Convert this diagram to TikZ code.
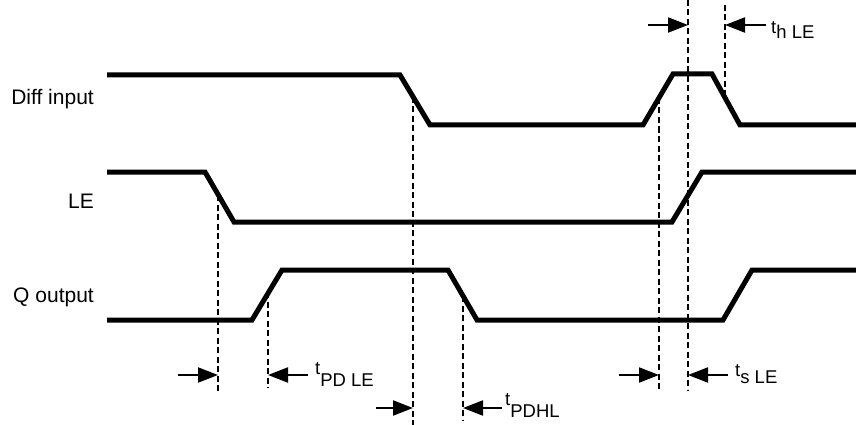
\documentclass[tikz,border=0pt]{standalone}
\usepackage{fontspec}
\setmainfont{Liberation Sans}
\usetikzlibrary{arrows.meta}
\begin{document}
\begin{tikzpicture}[x=1pt,y=-1pt,
  sig/.style={line width=5pt, line join=miter},
  guide/.style={line width=1.4pt, dash pattern=on 6pt off 3.5pt},
  meas/.style={line width=2pt, -{Triangle[length=20pt,width=15pt]}},
  lab/.style={font=\fontsize{21}{24}\selectfont, anchor=base east, inner sep=0pt},
  tlab/.style={font=\fontsize{18.5}{22}\selectfont, anchor=base west, inner sep=0pt}]
\useasboundingbox (0,0) rectangle (856,425);

% signal labels
\node[lab] (ldiff) at (94,105) {Diff input};
\node[lab] (lle) at (94,208) {LE};
\node[lab] (lq) at (94,302) {Q output};

% waveforms
\draw[sig] (107,75) -- (400,75) -- (430,125) -- (643,125) -- (673,74) -- (712,74) -- (740,125) -- (858,125);
\draw[sig] (107,172) -- (205,172) -- (234,222) -- (672,222) -- (702,172) -- (858,172);
\draw[sig] (107,320) -- (252,320) -- (282,270) -- (448,270) -- (477,320) -- (723,320) -- (752,270) -- (858,270);

% guide line end points
\coordinate (g1t) at (218,195); \coordinate (g1b) at (218,392);
\coordinate (g2t) at (268,292); \coordinate (g2b) at (268,388);
\coordinate (g3t) at (413,97);  \coordinate (g3b) at (413,425);
\coordinate (g4t) at (463,296); \coordinate (g4b) at (463,420);
\coordinate (g5t) at (659,98);  \coordinate (g5b) at (659,390);
\coordinate (g6t) at (688,0);   \coordinate (g6b) at (688,390);
\coordinate (g7t) at (725,5);   \coordinate (g7b) at (725,96);
\foreach \g in {1,...,7} \draw[guide] (g\g t) -- (g\g b);

% measurement arrows
\coordinate (a1) at (648,25); \coordinate (a1e) at (688,25);
\coordinate (a2) at (766,25); \coordinate (a2e) at (725,25);
\coordinate (a3) at (178,375); \coordinate (a3e) at (218,375);
\coordinate (a4) at (308,375); \coordinate (a4e) at (268,375);
\coordinate (a5) at (376,408); \coordinate (a5e) at (413,408);
\coordinate (a6) at (502,408); \coordinate (a6e) at (463,408);
\coordinate (a7) at (619,375); \coordinate (a7e) at (659,375);
\coordinate (a8) at (728,375); \coordinate (a8e) at (688,375);
\foreach \a in {1,...,8} \draw[meas] (a\a) -- (a\a e);

% timing labels
\node[tlab] (thle) at (771,34) {t\raisebox{-5pt}{h LE}};
\node[tlab] (tpdle) at (315,374) {t\raisebox{-12pt}{PD LE}};
\node[tlab] (tpdhl) at (505,405) {t\raisebox{-12pt}{PDHL}};
\node[tlab] (tsle) at (735,376) {t\raisebox{-7pt}{s LE}};
\end{tikzpicture}
\end{document}
